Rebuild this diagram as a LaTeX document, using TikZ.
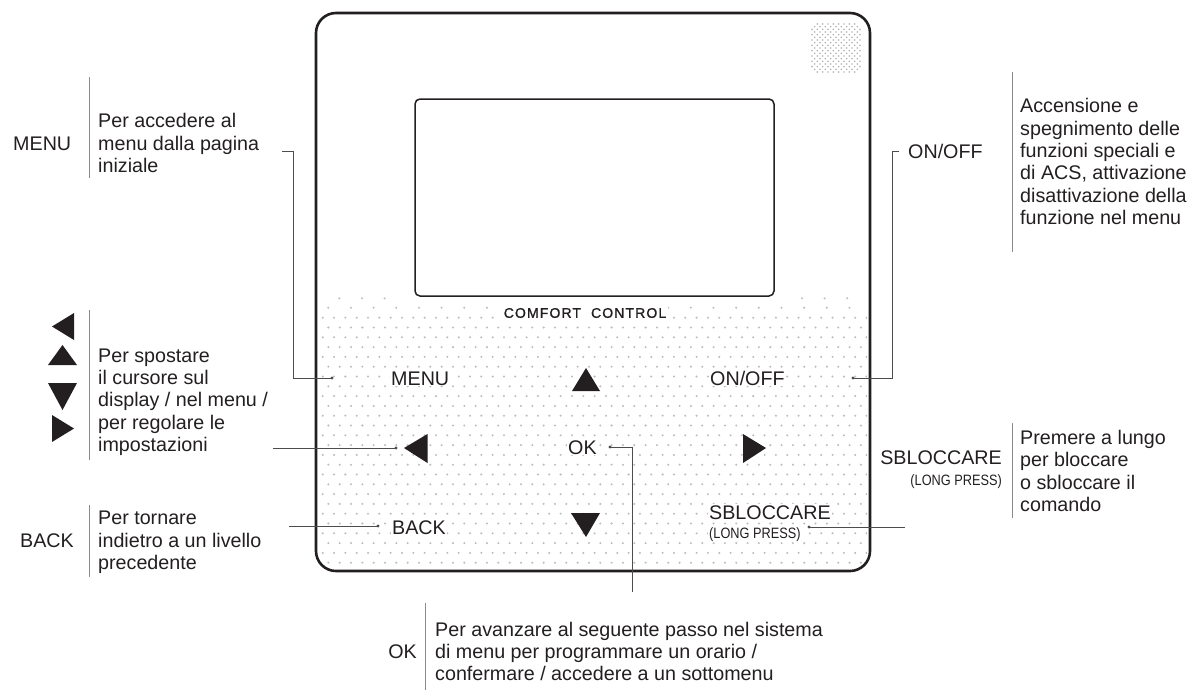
\documentclass[tikz,border=0pt]{standalone}
\usepackage{fontspec}
\setmainfont{Liberation Sans}
\newfontfamily\lcdfont[LetterSpace=8,FakeBold=1.2]{Liberation Sans}
\definecolor{ink}{HTML}{231F20}
\definecolor{lead}{HTML}{4D4D4D}
\definecolor{barc}{HTML}{8A8A8A}
\definecolor{dotc}{HTML}{BDBDBD}
\begin{document}
\begin{tikzpicture}[x=1pt,y=-1pt,
  lbl/.style={font=\fontsize{19.7}{22.4}\selectfont, text=ink, inner sep=0pt},
  capslbl/.style={lbl, text height=14.1pt, text depth=0pt},
  desc/.style={lbl, align=left, anchor=north west},
  keylbl/.style={capslbl, fill=white, inner sep=1pt},
  smalllbl/.style={font=\fontsize{15}{16}\selectfont, text=ink, inner sep=0pt, text height=10.7pt, text depth=0pt},
  bar/.style={draw=barc, line width=0.9pt},
  leader/.style={draw=lead, line width=1pt},
  tri/.style={fill=ink, draw=none},
  dev/.style={draw=ink, inner sep=0pt}
]
\useasboundingbox (0,0) rectangle (1190,691);

% ---- device body
\node[dev, line width=2.6pt, rounded corners=20pt, minimum width=554pt, minimum height=558pt] (device) at (593,292) {};

% ---- dotted key field
\begin{scope}
\clip[rounded corners=17pt] (319,292) rectangle (867,568);
\foreach \k in {0,...,25}{
  \pgfmathsetmacro\yy{317.7+9.8*\k}
  \pgfmathsetmacro\xo{322.7+5.67*mod(\k,2)}
  \foreach \i in {0,...,48}{
    \fill[dotc] (\xo+11.33*\i,\yy) circle (1.15pt);
  }
}
\foreach \i in {0,...,24} \fill[dotc] (328.3+22.66*\i,307.7) circle (1.15pt);
\foreach \x in {339.3,362,384.6,802,824.6,847.2} \fill[dotc] (\x,298.3) circle (1.15pt);
\end{scope}

% ---- speaker grille
\foreach \i in {0,...,9}{
  \foreach \j in {0,...,9}{
    \pgfmathtruncatemacro\corner{((\i==0)||(\i==9))&&((\j==0)||(\j==9))}
    \ifnum\corner=0 \fill[black!28] (812+5.33*\i,24+5.33*\j) circle (0.95pt);\fi
  }
}
\foreach \i in {0,...,8}{
  \foreach \j in {0,...,8}{
    \fill[black!28] (814.67+5.33*\i,26.67+5.33*\j) circle (0.95pt);
  }
}

% ---- screen
\node[dev, line width=1.5pt, rounded corners=5pt, minimum width=359pt, minimum height=197pt] (screen) at (594.5,197.5) {};
\node[font=\lcdfont\fontsize{14}{15}\selectfont, text=ink, fill=white, inner sep=2pt] (brand) at (585,313) {COMFORT\ \ CONTROL};

% ---- keys
\node[keylbl, anchor=west] (kMenu) at (390,378) {MENU};
\node[keylbl, anchor=west] (kOnoff) at (709,378) {ON/OFF};
\node[keylbl, anchor=west] (kOk) at (567,447) {OK};
\node[keylbl, anchor=west] (kBack) at (391,527) {BACK};
\node[keylbl, anchor=west] (kSbl) at (708,512.5) {SBLOCCARE};
\node[smalllbl, anchor=west, fill=white, inner sep=1pt] (kLong) at (708,533.5) {\scalebox{0.85}[1]{(LONG PRESS)}};

\fill[tri] (586,368) -- (572,391) -- (600,391) -- cycle;
\fill[tri] (586,537) -- (571,513) -- (600,513) -- cycle;
\fill[tri] (404,448) -- (427.5,434) -- (427.5,463) -- cycle;
\fill[tri] (766,448) -- (743,434) -- (743,463) -- cycle;

% ---- leader lines
\coordinate (menuDot) at (332,378);
\coordinate (menuEnd) at (282,151);
\coordinate (onDot) at (853,378);
\coordinate (onEnd) at (899,151);
\coordinate (arrDot) at (396,448);
\coordinate (arrEnd) at (273,448);
\coordinate (okDot) at (610,447);
\coordinate (okEnd) at (632,592);
\coordinate (backDot) at (378,526);
\coordinate (backEnd) at (289,526);
\coordinate (sblDot) at (809,527);
\coordinate (sblEnd) at (905,527);

\draw[leader] (menuEnd) -- ++(11,0) |- (menuDot);
\draw[leader] (onEnd) -- ++(-7,0) |- (onDot);
\draw[leader] (arrEnd) -- (arrDot);
\draw[leader] (okDot) -| (okEnd);
\draw[leader] (backEnd) -- (backDot);
\draw[leader] (sblDot) -- (sblEnd);
\foreach \d in {menuDot,onDot,arrDot,okDot,backDot,sblDot} \fill[lead] (\d) circle (1.6pt);

% ---- outside labels
\node[capslbl, anchor=west] (tMenu) at (13,143.3) {MENU};
\node[capslbl, anchor=west] (tBack) at (20,540) {BACK};
\node[capslbl, anchor=west] (tOnoff) at (908,151) {ON/OFF};
\node[capslbl, anchor=east] (tSbl) at (1002,457) {SBLOCCARE};
\node[smalllbl, anchor=east] (tLong) at (1002,480) {\scalebox{0.85}[1]{(LONG PRESS)}};
\node[capslbl, anchor=east] (tOk) at (417,651) {OK};

\fill[tri] (52,326.5) -- (74,313) -- (74,340) -- cycle;
\fill[tri] (62.5,345) -- (48,365) -- (77,365) -- cycle;
\fill[tri] (62.5,410) -- (48,383) -- (77,383) -- cycle;
\fill[tri] (74,428.5) -- (52,415) -- (52,442) -- cycle;

% ---- separator bars
\draw[bar] (89,77) -- (89,178);
\draw[bar] (89,310) -- (89,460);
\draw[bar] (89,505) -- (89,577);
\draw[bar] (1012,72) -- (1012,252);
\draw[bar] (1012,423) -- (1012,518);
\draw[bar] (425,603) -- (425,690);

% ---- descriptions
\node[desc] (dMenu) at (98,113.3) {Per accedere al\\menu dalla pagina\\iniziale};
\node[desc] (dArr) at (98,348.3) {Per spostare\\il cursore sul\\display / nel menu /\\per regolare le\\impostazioni};
\node[desc] (dBack) at (98,511) {Per tornare\\indietro a un livello\\precedente};
\node[desc] (dOnoff) at (1020,98.3) {Accensione e\\spegnimento delle\\funzioni speciali e\\di ACS, attivazione\\disattivazione della\\funzione nel menu};
\node[desc] (dSbl) at (1020,430) {Premere a lungo\\per bloccare\\o sbloccare il\\comando};
\node[desc] (dOk) at (435,621.7) {Per avanzare al seguente passo nel sistema\\di menu per programmare un orario /\\confermare / accedere a un sottomenu};
\end{tikzpicture}
\end{document}
